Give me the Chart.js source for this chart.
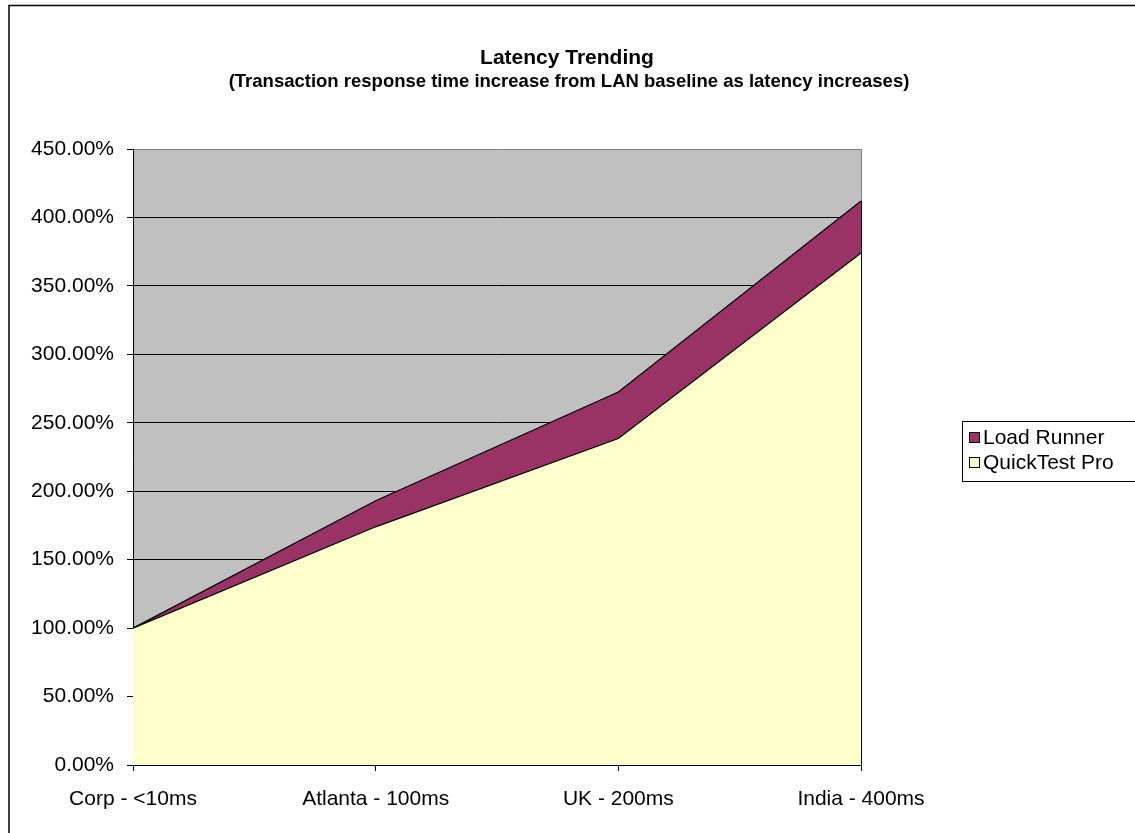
<!DOCTYPE html>
<html>
<head>
<meta charset="utf-8">
<script src="https://cdn.jsdelivr.net/npm/chart.js@4.4.1/dist/chart.umd.min.js"></script>
<style>
  html, body { margin: 0; padding: 0; background: #fff; }
  #wrap { position: relative; width: 1135px; height: 833px; }
</style>
</head>
<body>
<div id="wrap"><canvas id="c" width="1135" height="833"></canvas></div>
<script>
const categories = ['Corp - <10ms', 'Atlanta - 100ms', 'UK - 200ms', 'India - 400ms'];
const loadRunner = [100, 193, 272.5, 412];
const quickTestPro = [100, 174, 238.5, 374];
const yTickValues = [0, 50, 100, 150, 200, 250, 300, 350, 400, 450];
const titleText = 'Latency Trending';
const subtitleText = '(Transaction response time increase from LAN baseline as latency increases)';
const seriesNames = ['Load Runner', 'QuickTest Pro'];
const seriesColors = ['#993366', '#FFFFCC'];

const FONT = '"Liberation Sans", Arial, sans-serif';

const decor = {
  id: 'decor',
  beforeDraw(chart) {
    const { ctx, chartArea: a } = chart;
    ctx.save();
    ctx.fillStyle = '#fff';
    ctx.fillRect(0, 0, chart.width, chart.height);
    ctx.fillStyle = '#C0C0C0';
    ctx.fillRect(a.left, a.top, a.right - a.left, a.bottom - a.top);
    ctx.strokeStyle = '#000';
    ctx.lineWidth = 1.5;
    ctx.beginPath();
    ctx.moveTo(9, chart.height + 2);
    ctx.lineTo(9, 5.5);
    ctx.lineTo(chart.width + 2, 5.5);
    ctx.stroke();
    ctx.restore();
  },
  afterDatasetsDraw(chart) {
    const { ctx, chartArea: a, scales } = chart;
    ctx.save();
    ctx.lineWidth = 1;
    ctx.strokeStyle = '#808080';
    ctx.beginPath();
    ctx.moveTo(a.right + 0.5, a.top);
    ctx.lineTo(a.right + 0.5, a.bottom);
    ctx.stroke();
    const yTop = scales.y.getPixelForValue(loadRunner[loadRunner.length - 1]);
    ctx.strokeStyle = '#000';
    ctx.beginPath();
    ctx.moveTo(a.right + 0.5, yTop);
    ctx.lineTo(a.right + 0.5, a.bottom);
    ctx.stroke();
    ctx.restore();
  },
  afterDraw(chart) {
    const { ctx } = chart;
    ctx.save();
    ctx.fillStyle = '#000';
    ctx.textAlign = 'center';
    ctx.textBaseline = 'alphabetic';
    ctx.font = 'bold 21px ' + FONT;
    ctx.fillText(titleText, 567, 64);
    ctx.font = 'bold 18.5px ' + FONT;
    ctx.fillText(subtitleText, 569, 87);
    // legend
    const lx = 962.5, ly = 421.5;
    ctx.strokeStyle = '#000';
    ctx.lineWidth = 1;
    ctx.strokeRect(lx, ly, 200, 60);
    ctx.font = '21px ' + FONT;
    ctx.textAlign = 'left';
    ctx.textBaseline = 'middle';
    const rows = [438, 463];
    seriesNames.forEach((name, i) => {
      const y = rows[i];
      ctx.fillStyle = seriesColors[i];
      ctx.fillRect(969.5, y - 5.5, 10, 10);
      ctx.strokeRect(969.5, y - 5.5, 10, 10);
      ctx.fillStyle = '#000';
      ctx.fillText(name, 983, y);
    });
    ctx.restore();
  }
};

new Chart(document.getElementById('c'), {
  type: 'line',
  data: {
    labels: categories,
    datasets: [
      { label: seriesNames[1], data: quickTestPro, fill: 'origin', backgroundColor: seriesColors[1],
        borderColor: '#000', borderWidth: 1.2, pointRadius: 0, tension: 0 },
      { label: seriesNames[0], data: loadRunner, fill: 'origin', backgroundColor: seriesColors[0],
        borderColor: '#000', borderWidth: 1.2, pointRadius: 0, tension: 0 }
    ]
  },
  options: {
    responsive: false,
    animation: false,
    devicePixelRatio: 1,
    layout: { padding: { top: 149, right: 274, bottom: 0, left: 0 } },
    plugins: { legend: { display: false }, title: { display: false }, tooltip: { enabled: false } },
    scales: {
      x: {
        type: 'category',
        offset: false,
        grid: { drawOnChartArea: false, tickLength: 6, tickColor: '#000' },
        border: { display: true, color: '#000', width: 1 },
        ticks: { color: '#000', font: { family: FONT, size: 21 }, padding: 16, maxRotation: 0, autoSkip: false },
        afterFit(scale) { scale.height = 68; }
      },
      y: {
        min: 0, max: 450,
        afterBuildTicks(scale) { scale.ticks = yTickValues.map(v => ({ value: v })); },
        grid: {
          color: (c) => (c.tick && c.tick.value === 450 ? '#808080' : '#000'),
          tickColor: '#000', tickLength: 6, lineWidth: 1
        },
        border: { display: true, color: '#000', width: 1 },
        ticks: { color: '#000', font: { family: FONT, size: 21 }, padding: 13,
          callback: (v) => Number(v).toFixed(2) + '%' },
        afterFit(scale) { scale.width = 133; }
      }
    }
  },
  plugins: [decor]
});
</script>
</body>
</html>
